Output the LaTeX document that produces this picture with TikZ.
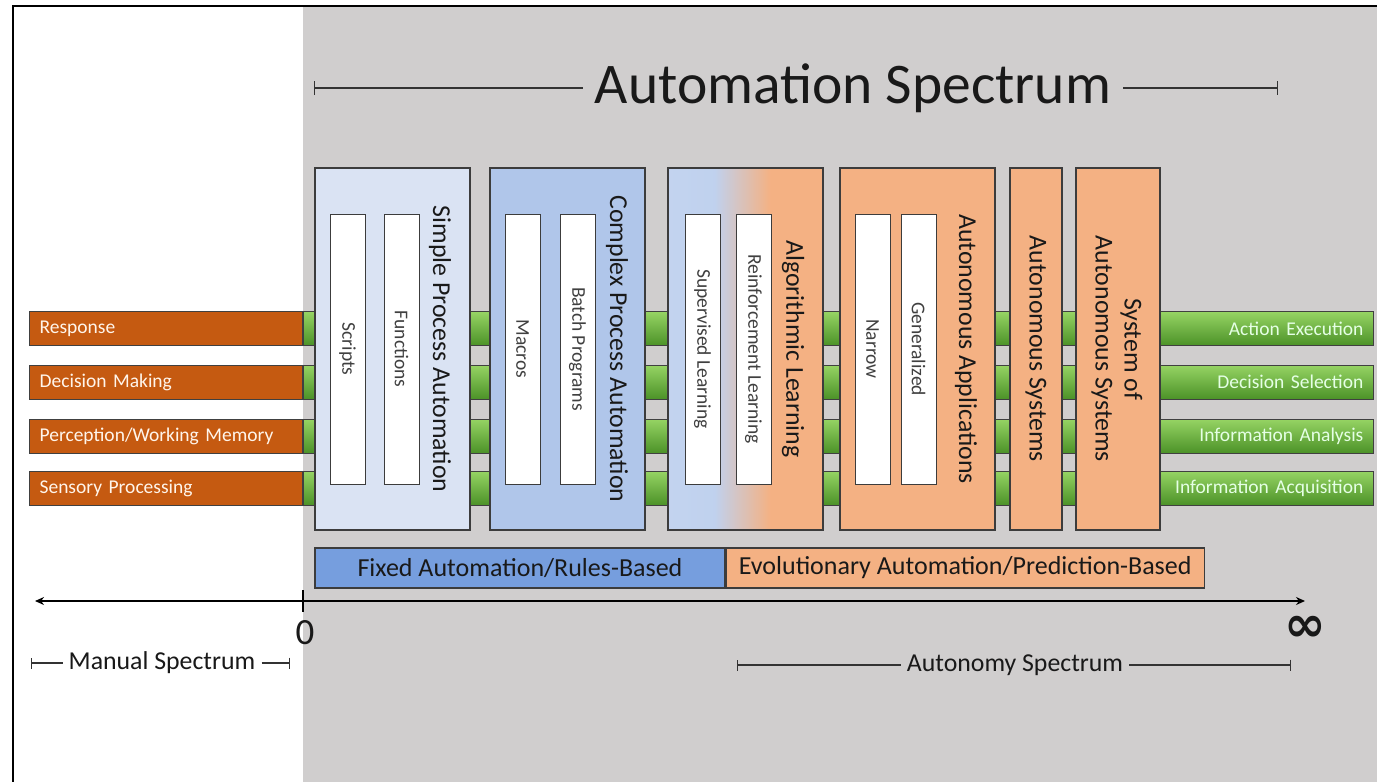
\documentclass[tikz,border=0pt]{standalone}
\usepackage{fontspec}
\setmainfont{Carlito}
\newfontfamily\symbolfont{DejaVu Sans}
\usepackage{tikz}
\usetikzlibrary{arrows.meta,positioning}
\definecolor{bggray}{RGB}{208,206,206}
\definecolor{manualorange}{RGB}{197,90,17}
\definecolor{greentop}{RGB}{150,212,100}
\definecolor{greenbot}{RGB}{76,146,40}
\definecolor{paleblue}{RGB}{218,227,243}
\definecolor{midblue}{RGB}{176,198,234}
\definecolor{fixedblue}{RGB}{118,158,222}
\definecolor{stageorange}{RGB}{244,177,131}
\definecolor{boxline}{RGB}{60,60,60}
\definecolor{inktext}{RGB}{25,25,25}
\pgfdeclarehorizontalshading{learnshade}{100bp}{color(0bp)=(midblue!70!white); color(40bp)=(midblue!80!white); color(58bp)=(stageorange); color(100bp)=(stageorange)}
\tikzstyle{rowbar}=[draw=black!75, line width=0.8pt, minimum height=34pt, inner ysep=0pt, inner xsep=10pt, text=white!92!orange, font=\fontsize{19.5}{22}\selectfont]
\tikzstyle{manualbar}=[rowbar, fill=manualorange, text width=253pt, align=left]
\tikzstyle{autobar}=[rowbar, top color=greentop, bottom color=greenbot, text width=193pt, align=right, text=white!90!green]
\tikzstyle{stagebox}=[draw=boxline, line width=1.2pt, inner sep=0pt, minimum height=362pt]
\tikzstyle{stagetitle}=[rotate=-90, text=inktext, align=center, font=\fontsize{25.8}{29}\selectfont]
\tikzstyle{subbox}=[draw=boxline, fill=white, line width=1pt, rotate=-90, inner sep=0pt, minimum width=270pt, minimum height=35pt, text=black!75, font=\fontsize{19.5}{22}\selectfont]
\tikzstyle{phasebox}=[draw=boxline, line width=1.2pt, minimum height=40pt, inner sep=0pt, text=inktext, font=\fontsize{26}{28}\selectfont]
\tikzstyle{spanlabel}=[text=inktext, inner xsep=6pt]

\begin{document}
\begin{tikzpicture}[x=1pt,y=-1pt]
	\useasboundingbox (0,0) rectangle (1377,782);
	\fill[white] (0,0) rectangle (1377,782);
	\fill[bggray] (303,7) rectangle (1377,782);
	\draw[line width=2.5pt] (13,782) -- (13,6) -- (1377,6);

	% title span
	\node[spanlabel, font=\fontsize{57.5}{60}\selectfont, inner xsep=12pt] (title) at (853,88) {Automation Spectrum};
	\coordinate (titleleft) at (314,88);
	\coordinate (titleright) at (1278,88);
	\draw[{Bar[width=14pt]}-, line width=1.2pt, draw=black!80] (titleleft) -- (title.west);
	\draw[-{Bar[width=14pt]}, line width=1.2pt, draw=black!80] (title.east) -- (titleright);

	% rows
	\foreach \nm/\y/\lab/\rlab in {resp/328.5/Response/Action Execution, dec/382/Decision Making/Decision Selection, perc/436/{Perception/Working Memory}/Information Analysis, sens/488/Sensory Processing/Information Acquisition}{
		\shade[top color=greentop, bottom color=greenbot, draw=black!75, line width=0.8pt] (303,\y-17) rectangle (1160,\y+17);
		\node[manualbar, anchor=east] (\nm-m) at (303,\y) {\lab};
		\node[autobar, anchor=west] (\nm-a) at (1160,\y) {\rlab};
	}

	% stages
	\node[stagebox, fill=paleblue, minimum width=155pt] (spa) at (392.5,349) {};
	\node[stagebox, fill=midblue, minimum width=155pt] (cpa) at (567.5,349) {};
	\node[stagebox, shading=learnshade, minimum width=155pt] (alg) at (745.5,349) {};
	\node[stagebox, fill=stageorange, minimum width=155pt] (aap) at (917.5,349) {};
	\node[stagebox, fill=stageorange, minimum width=52pt] (asy) at (1036,349) {};
	\node[stagebox, fill=stageorange, minimum width=84pt] (sas) at (1118,349) {};

	\node[subbox] (scripts) at (347.5,349) {Scripts};
	\node[subbox] (functions) at (401.5,349) {Functions};
	\node[subbox] (macros) at (522.5,349) {Macros};
	\node[subbox] (batch) at (577.5,349) {Batch Programs};
	\node[subbox] (supervised) at (702.5,349) {Supervised Learning};
	\node[subbox] (reinforce) at (753.5,349) {Reinforcement Learning};
	\node[subbox] (narrow) at (872.5,349) {Narrow};
	\node[subbox] (general) at (918.5,349) {Generalized};

	\node[stagetitle] (spa-t) at (440,349) {Simple Process Automation};
	\node[stagetitle] (cpa-t) at (617,349) {Complex Process Automation};
	\node[stagetitle] (alg-t) at (793,349) {Algorithmic Learning};
	\node[stagetitle] (aap-t) at (966,349) {Autonomous Applications};
	\node[stagetitle] (asy-t) at (1036,349) {Autonomous Systems};
	\node[stagetitle] (sas-t) at (1117,349) {System of\\Autonomous Systems};

	% phases
	\node[phasebox, fill=fixedblue, minimum width=410pt] (fixed) at (520,568) {Fixed Automation/Rules-Based};
	\node[phasebox, fill=stageorange, minimum width=478pt, right=0pt of fixed] (evo) {Evolutionary Automation/Prediction-Based};

	% axis
	\coordinate (axleft) at (35,601);
	\coordinate (axright) at (1305,601);
	\coordinate (zerotop) at (303,590);
	\coordinate (zerobot) at (303,612);
	\draw[{Stealth[length=9pt,width=8pt]}-{Stealth[length=9pt,width=8pt]}, line width=1.6pt] (axleft) -- (axright);
	\draw[line width=1.4pt] (zerotop) -- (zerobot);
	\node[text=inktext, font=\fontsize{37}{38}\selectfont] (zero) at (305,633) {0};
	\node[text=inktext, font=\fontsize{50}{50}\selectfont\symbolfont\bfseries] (inf) at (1305,629) {∞};

	% lower spans
	\node[spanlabel, font=\fontsize{25.8}{28}\selectfont] (manual) at (162,663) {Manual Spectrum};
	\coordinate (manleft) at (31,663);
	\coordinate (manright) at (290,663);
	\draw[{Bar[width=11pt]}-, line width=1.2pt, draw=black!80] (manleft) -- (manual.west);
	\draw[-{Bar[width=11pt]}, line width=1.2pt, draw=black!80] (manual.east) -- (manright);

	\node[spanlabel, font=\fontsize{25.8}{28}\selectfont] (autonomy) at (1015,665) {Autonomy Spectrum};
	\coordinate (autleft) at (737,665);
	\coordinate (autright) at (1291,665);
	\draw[{Bar[width=11pt]}-, line width=1.2pt, draw=black!80] (autleft) -- (autonomy.west);
	\draw[-{Bar[width=11pt]}, line width=1.2pt, draw=black!80] (autonomy.east) -- (autright);
\end{tikzpicture}
\end{document}
